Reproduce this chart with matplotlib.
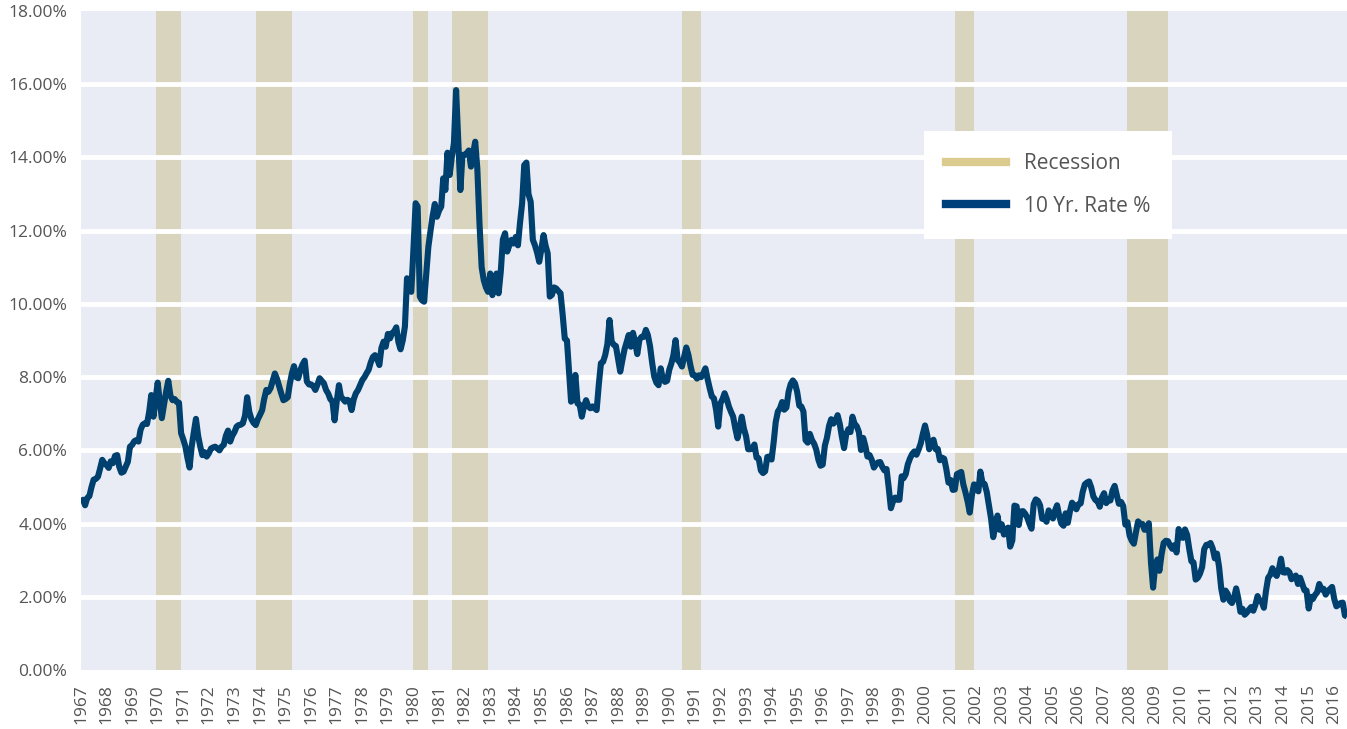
import matplotlib
matplotlib.use("Agg")
import matplotlib.pyplot as plt
import matplotlib.dates as mdates
from matplotlib.lines import Line2D
import pandas as pd

plt.rcParams['font.family'] = ['Open Sans', 'DejaVu Sans']

# month-end 10 year treasury rate, one value per month from Jan 1967
rates_1960s = [
    4.60, 4.65, 4.50, 4.70, 4.75, 5.00, 5.20, 5.22, 5.28, 5.50, 5.74, 5.65,
    5.60, 5.52, 5.70, 5.65, 5.85, 5.87, 5.55, 5.39, 5.42, 5.55, 5.69, 6.10,
    6.15, 6.25, 6.28, 6.24, 6.56, 6.70, 6.74, 6.72, 7.05, 7.51, 6.92, 7.40,
]
rates_1970s = [
    7.85, 7.30, 6.88, 7.25, 7.60, 7.90, 7.50, 7.37, 7.40, 7.32, 7.30, 6.47,
    6.30, 6.10, 5.80, 5.53, 6.10, 6.50, 6.86, 6.40, 6.10, 5.87, 5.95, 5.83,
    5.92, 6.05, 6.08, 6.10, 6.05, 6.00, 6.10, 6.15, 6.40, 6.54, 6.24, 6.40,
    6.50, 6.65, 6.69, 6.70, 6.74, 6.95, 7.45, 7.05, 6.85, 6.75, 6.69, 6.85,
    6.97, 7.10, 7.40, 7.65, 7.60, 7.70, 7.90, 8.10, 7.95, 7.75, 7.55, 7.37,
    7.40, 7.45, 7.80, 8.10, 8.30, 8.00, 7.97, 8.20, 8.35, 8.45, 7.88, 7.80,
    7.80, 7.75, 7.65, 7.80, 7.97, 7.90, 7.83, 7.65, 7.55, 7.40, 7.33, 6.82,
    7.35, 7.78, 7.47, 7.40, 7.33, 7.38, 7.35, 7.10, 7.40, 7.56, 7.65, 7.78,
    7.92, 8.00, 8.10, 8.20, 8.40, 8.55, 8.60, 8.50, 8.33, 8.80, 8.97, 8.83,
    9.18, 9.06, 9.20, 9.25, 9.36, 8.95, 8.76, 9.00, 9.38, 10.70, 10.45, 10.33,
]
rates_1980s = [
    11.50, 12.75, 12.66, 10.20, 10.10, 10.06, 10.80, 11.56, 12.00, 12.40, 12.73, 12.38,
    12.55, 12.66, 13.43, 13.11, 14.13, 13.52, 14.00, 14.39, 15.84, 14.50, 13.11, 14.07,
    14.07, 14.12, 14.19, 13.75, 14.10, 14.43, 13.70, 12.20, 11.00, 10.65, 10.45, 10.33,
    10.83, 10.24, 10.60, 10.83, 10.29, 10.88, 11.76, 11.93, 11.43, 11.60, 11.75, 11.65,
    11.83, 11.60, 12.20, 12.75, 13.79, 13.86, 13.00, 12.79, 11.75, 11.60, 11.40, 11.15,
    11.50, 11.88, 11.60, 11.38, 10.20, 10.25, 10.45, 10.42, 10.35, 10.29, 9.70, 9.05,
    9.00, 8.10, 7.33, 7.40, 8.06, 7.28, 7.25, 6.92, 7.20, 7.37, 7.20, 7.15,
    7.20, 7.15, 7.10, 7.80, 8.38, 8.42, 8.60, 8.90, 9.56, 8.97, 8.88, 8.85,
    8.50, 8.15, 8.45, 8.75, 8.95, 9.15, 8.83, 9.21, 8.95, 8.63, 9.02, 9.10,
    9.10, 9.29, 9.15, 8.85, 8.40, 8.01, 7.85, 7.78, 8.24, 7.95, 7.87, 7.90,
]
rates_1990s = [
    8.20, 8.38, 8.60, 9.01, 8.47, 8.40, 8.29, 8.55, 8.81, 8.61, 8.30, 8.06,
    8.05, 7.96, 8.05, 8.00, 8.10, 8.24, 7.96, 7.70, 7.47, 7.42, 7.10, 6.65,
    7.28, 7.40, 7.56, 7.40, 7.20, 7.05, 6.92, 6.60, 6.33, 6.60, 6.92, 6.60,
    6.39, 6.03, 6.03, 6.05, 6.16, 5.80, 5.78, 5.45, 5.38, 5.43, 5.82, 5.83,
    5.75, 6.24, 6.77, 7.06, 7.15, 7.32, 7.11, 7.17, 7.60, 7.81, 7.91, 7.83,
    7.60, 7.22, 7.20, 7.06, 6.28, 6.21, 6.45, 6.28, 6.18, 6.02, 5.74, 5.58,
    5.61, 6.13, 6.34, 6.67, 6.85, 6.73, 6.80, 6.96, 6.72, 6.37, 6.06, 6.43,
    6.58, 6.50, 6.92, 6.72, 6.66, 6.50, 6.01, 6.34, 6.12, 5.83, 5.87, 5.74,
    5.53, 5.62, 5.67, 5.68, 5.55, 5.45, 5.49, 4.98, 4.42, 4.61, 4.71, 4.65,
    4.65, 5.29, 5.24, 5.35, 5.62, 5.78, 5.90, 5.97, 5.88, 6.02, 6.19, 6.45,
]
rates_2000s = [
    6.68, 6.42, 6.03, 6.23, 6.29, 6.03, 6.04, 5.73, 5.80, 5.77, 5.48, 5.12,
    5.19, 4.92, 4.93, 5.35, 5.38, 5.41, 5.07, 4.85, 4.60, 4.30, 4.78, 5.07,
    5.04, 4.88, 5.42, 5.11, 5.08, 4.86, 4.51, 4.14, 3.63, 3.93, 4.22, 3.83,
    3.98, 3.70, 3.83, 3.89, 3.37, 3.54, 4.49, 4.47, 3.96, 4.33, 4.34, 4.27,
    4.16, 3.99, 3.86, 4.53, 4.66, 4.62, 4.50, 4.13, 4.14, 4.05, 4.36, 4.24,
    4.14, 4.36, 4.50, 4.21, 4.00, 3.94, 4.28, 4.02, 4.34, 4.57, 4.49, 4.39,
    4.53, 4.55, 4.86, 5.07, 5.12, 5.15, 4.99, 4.74, 4.64, 4.61, 4.46, 4.71,
    4.83, 4.56, 4.65, 4.63, 4.90, 5.03, 4.78, 4.54, 4.59, 4.48, 3.97, 4.04,
    3.67, 3.53, 3.45, 3.77, 4.06, 3.99, 3.99, 3.83, 3.85, 4.01, 2.93, 2.25,
    2.87, 3.02, 2.71, 3.16, 3.47, 3.53, 3.52, 3.40, 3.31, 3.41, 3.21, 3.85,
]
rates_2010s = [
    3.63, 3.61, 3.84, 3.69, 3.31, 2.97, 2.94, 2.47, 2.52, 2.63, 2.81, 3.30,
    3.42, 3.42, 3.47, 3.32, 3.05, 3.18, 2.82, 2.23, 1.92, 2.17, 2.08, 1.89,
    1.83, 1.98, 2.23, 1.95, 1.59, 1.67, 1.51, 1.57, 1.65, 1.72, 1.62, 1.78,
    2.02, 1.89, 1.87, 1.70, 2.16, 2.52, 2.60, 2.78, 2.64, 2.57, 2.75, 3.04,
    2.67, 2.66, 2.73, 2.67, 2.48, 2.53, 2.58, 2.35, 2.52, 2.35, 2.18, 2.17,
    1.68, 2.00, 1.94, 2.05, 2.12, 2.35, 2.20, 2.22, 2.06, 2.16, 2.21, 2.27,
    1.94, 1.74, 1.78, 1.83, 1.84, 1.49, 1.46,
]

rec_start = ['1969-12-01', '1973-11-01', '1980-01-01', '1981-07-01',
             '1990-07-01', '2001-03-01', '2007-12-01']
rec_end = ['1970-12-01', '1975-04-01', '1980-08-01', '1982-12-01',
           '1991-04-01', '2001-12-01', '2009-07-01']

y_ticks = [0, 2, 4, 6, 8, 10, 12, 14, 16, 18]

rates = rates_1960s + rates_1970s + rates_1980s + rates_1990s + rates_2000s + rates_2010s
dates = pd.date_range('1967-01-01', periods=len(rates), freq='MS')

fig = plt.figure(figsize=(13.47, 7.29), dpi=100)
ax = fig.add_axes([0.0601, 0.0809, 0.9399, 0.904])
ax.set_facecolor('#E9ECF4')

for s, e in zip(rec_start, rec_end):
    ax.axvspan(pd.Timestamp(s), pd.Timestamp(e), color='#D9D4BD', lw=0, zorder=1)
for y in y_ticks[1:-1]:
    ax.axhline(y, color='white', lw=3.5, zorder=2)

ax.plot(dates, rates, color='#00406E', lw=4.4, zorder=3,
        solid_joinstyle='round', solid_capstyle='butt')

ax.set_xlim(pd.Timestamp('1967-01-01'), dates[-1])
ax.set_ylim(0, 18)
ax.set_yticks(y_ticks)
ax.set_yticklabels([f'{v:.2f}%' for v in y_ticks])
ax.xaxis.set_major_locator(mdates.YearLocator())
ax.xaxis.set_major_formatter(mdates.DateFormatter('%Y'))
ax.tick_params(axis='x', rotation=90, length=0, pad=10, labelsize=12.5, colors='#555555')
ax.tick_params(axis='y', length=0, pad=10, labelsize=12.5, colors='#555555')
for sp in ax.spines.values():
    sp.set_visible(False)

handles = [Line2D([], [], color='#DCCB8F', lw=6),
           Line2D([], [], color='#00407A', lw=6)]
leg = ax.legend(handles, ['Recession', '10 Yr. Rate %'], loc='upper left',
                bbox_to_anchor=(0.666, 0.818), frameon=True, facecolor='white',
                edgecolor='none', framealpha=1, fancybox=False, fontsize=15,
                handlelength=2.9, labelspacing=1.05, borderpad=1.05,
                handletextpad=0.85, borderaxespad=0)
for t in leg.get_texts():
    t.set_color('#555555')
leg.set_zorder(5)

fig.savefig('out.png', dpi=100)
